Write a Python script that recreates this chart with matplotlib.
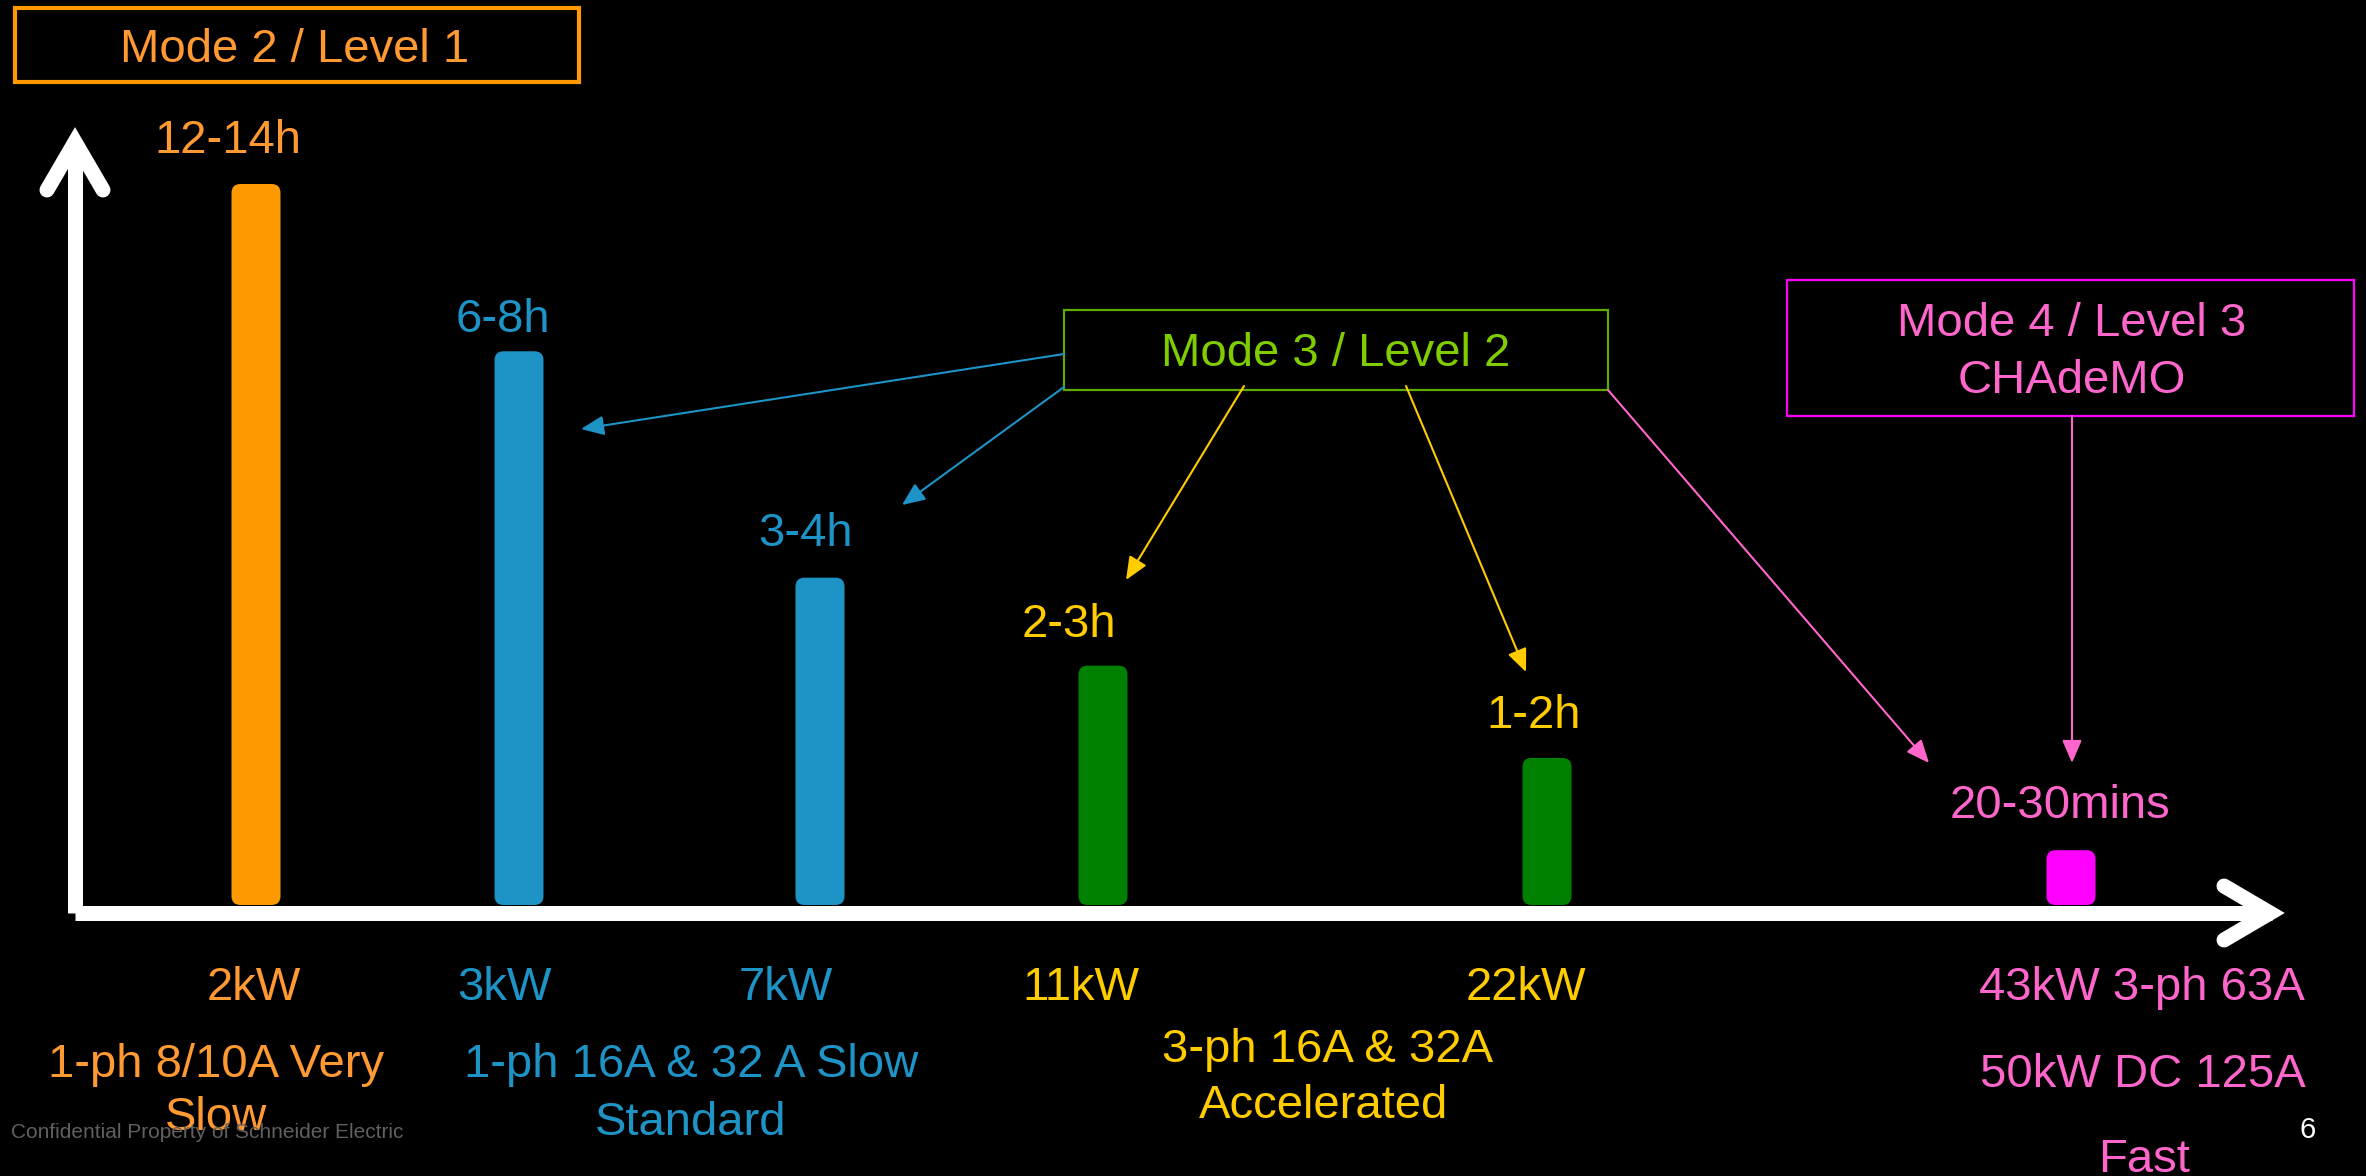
import matplotlib
matplotlib.use("Agg")
import matplotlib.pyplot as plt
from matplotlib.patches import FancyBboxPatch, Rectangle

plt.rcParams['font.family'] = ['Liberation Sans', 'DejaVu Sans']

# charging categories, left to right
times = ['12-14h', '6-8h', '3-4h', '2-3h', '1-2h', '20-30mins']
powers = ['2kW', '3kW', '7kW', '11kW', '22kW', '43kW 3-ph 63A']
bar_heights = [100, 76.8, 45.4, 33.2, 20.4, 7.6]   # relative charging time
bar_colors = ['#FF9900', '#1E93C6', '#1E93C6', '#008000', '#008000', '#FF00FF']
label_colors = ['#FF9A33', '#1E93C6', '#1E93C6', '#FFCC00', '#FFCC00', '#FF66CC']
descriptions = ['1-ph 8/10A Very', 'Slow', '1-ph 16A & 32 A Slow', 'Standard',
                '3-ph 16A & 32A', 'Accelerated', '50kW DC 125A', 'Fast']
modes = ['Mode 2 / Level 1', 'Mode 3 / Level 2', 'Mode 4 / Level 3', 'CHAdeMO']

W, H = 2366, 1176
bar_x = [256, 519, 820, 1103, 1547, 2071]
bar_w = 49
base_y = 905
top_y = 184

fig = plt.figure(figsize=(W / 100, H / 100), dpi=100, facecolor='black')

# bars live in their own axes so heights go through the y scale
ax = fig.add_axes([0, (H - base_y) / H, 1, (base_y - top_y) / H])
ax.set_xlim(0, W)
ax.set_ylim(0, 100)
ax.axis('off')
bars = ax.bar(bar_x, bar_heights, width=bar_w, color=bar_colors)
px_per_unit = (base_y - top_y) / 100
for b in bars:
    b.set_visible(False)
    ax.add_patch(FancyBboxPatch((b.get_x(), b.get_y()), b.get_width(), b.get_height(),
                                boxstyle='round,pad=0,rounding_size=9',
                                mutation_aspect=1 / px_per_unit,
                                facecolor=b.get_facecolor(), edgecolor='none'))

# overlay in pixel coordinates for axes arrows, labels and callouts
ov = fig.add_axes([0, 0, 1, 1])
ov.set_xlim(0, W)
ov.set_ylim(H, 0)
ov.axis('off')
ov.patch.set_alpha(0)

kw = dict(color='white', lw=10.8, solid_capstyle='round', solid_joinstyle='miter')
ov.plot([75, 75], [913, 150], color='white', lw=10.8, solid_capstyle='butt')
ov.plot([47, 75, 103], [190, 142, 190], **kw)
ov.plot([75, 2272], [913, 913], color='white', lw=10.8, solid_capstyle='butt')
ov.plot([2224, 2270, 2224], [886, 913, 940], **kw)

fs = 34
# time labels above bars
time_pos = [(228, 153), (503, 332), (806, 546), (1069, 637), (1534, 728), (2060, 818)]
for t, (x, y), c in zip(times, time_pos, label_colors):
    ov.text(x, y, t, color=c, fontsize=fs, ha='center', va='baseline')

# power labels below the axis
power_x = [254, 504, 786, 1081, 1526, 2142]
for p, x, c in zip(powers, power_x, label_colors):
    ov.text(x, 1000, p, color=c, fontsize=fs, ha='center', va='baseline')

desc_pos = [(216, 1077), (216, 1130), (691, 1077), (691, 1135),
            (1328, 1062), (1324, 1118), (2143, 1087), (2144, 1172)]
desc_colors = ['#FF9A33', '#FF9A33', '#1E93C6', '#1E93C6',
               '#FFCC00', '#FFCC00', '#FF66CC', '#FF66CC']
for d, (x, y), c in zip(descriptions, desc_pos, desc_colors):
    ov.text(x, y, d, color=c, fontsize=fs, ha='center', va='baseline')

# mode boxes
ov.add_patch(Rectangle((15, 8), 564, 74, fill=False, edgecolor='#FF9900', lw=3))
ov.text(295, 62, modes[0], color='#FF9A33', fontsize=fs, ha='center', va='baseline')

ov.add_patch(Rectangle((1064, 310), 544, 80, fill=False, edgecolor='#5FAA00', lw=1.6))
ov.text(1336, 366, modes[1], color='#7FCC00', fontsize=fs, ha='center', va='baseline')

ov.add_patch(Rectangle((1787, 280), 567, 136, fill=False, edgecolor='#FF00FF', lw=1.6))
ov.text(2072, 336, modes[2], color='#FF66CC', fontsize=fs, ha='center', va='baseline')
ov.text(2072, 393, modes[3], color='#FF66CC', fontsize=fs, ha='center', va='baseline')

# callout arrows from the mode boxes to the bars
callouts = [
    ((1064, 354), (581, 429), '#1E93C6'),
    ((1064, 387), (902, 505), '#1E93C6'),
    ((1244, 386), (1126, 580), '#FFCC00'),
    ((1406, 386), (1526, 672), '#FFCC00'),
    ((1608, 390), (1929, 763), '#FF66CC'),
    ((2072, 416), (2072, 763), '#FF66CC'),
]
for start, end, c in callouts:
    ov.annotate('', xy=end, xytext=start,
                arrowprops=dict(arrowstyle='-|>,head_length=0.7,head_width=0.3', color=c,
                                lw=1.5, shrinkA=0, shrinkB=0, mutation_scale=20))

ov.text(11, 1138, 'Confidential Property of Schneider Electric', color='#606060',
        fontsize=15, ha='left', va='baseline')
ov.text(2308, 1138, '6', color='white', fontsize=21, ha='center', va='baseline')

fig.savefig('out.png', dpi=100, facecolor='black')
